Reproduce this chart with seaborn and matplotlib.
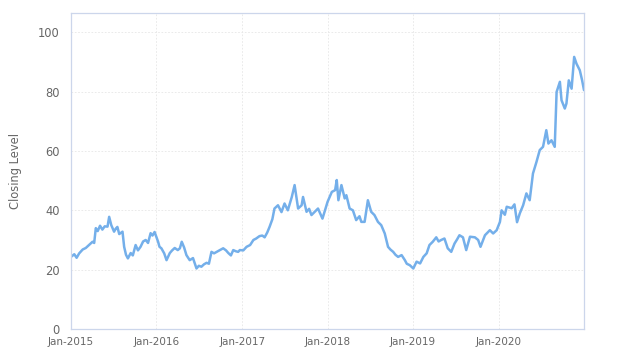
import pandas as pd
import matplotlib
matplotlib.use("Agg")
import matplotlib.pyplot as plt
import matplotlib.dates as mdates
import seaborn as sns

# Closing levels
dates = [
    "2015-01-01", "2015-01-15", "2015-01-25", "2015-02-05", "2015-02-20", "2015-03-05",
    "2015-03-20", "2015-04-03", "2015-04-10", "2015-04-17", "2015-04-25", "2015-05-05",
    "2015-05-15", "2015-05-25", "2015-06-06", "2015-06-13", "2015-06-22", "2015-07-04",
    "2015-07-11", "2015-07-18", "2015-07-26", "2015-08-09", "2015-08-16", "2015-08-24",
    "2015-09-01", "2015-09-13", "2015-09-22", "2015-10-04", "2015-10-14", "2015-10-25",
    "2015-11-05", "2015-11-16", "2015-11-26", "2015-12-07", "2015-12-15", "2015-12-24",
    "2016-01-08", "2016-01-14", "2016-01-22", "2016-02-03", "2016-02-13", "2016-02-27",
    "2016-03-08", "2016-03-19", "2016-04-01", "2016-04-10", "2016-04-18", "2016-04-28",
    "2016-05-08", "2016-05-22", "2016-06-05", "2016-06-20", "2016-06-30", "2016-07-11",
    "2016-07-22", "2016-08-02", "2016-08-12", "2016-08-23", "2016-09-03", "2016-09-14",
    "2016-09-28", "2016-10-12", "2016-10-24", "2016-11-03", "2016-11-14", "2016-11-24",
    "2016-12-05", "2016-12-15", "2016-12-22", "2017-01-06", "2017-01-20", "2017-02-04",
    "2017-02-18", "2017-03-02", "2017-03-16", "2017-03-28", "2017-04-07", "2017-04-18",
    "2017-04-28", "2017-05-10", "2017-05-19", "2017-06-03", "2017-06-18", "2017-07-01",
    "2017-07-15", "2017-08-01", "2017-08-13", "2017-08-28", "2017-09-12", "2017-09-18",
    "2017-10-03", "2017-10-14", "2017-10-24", "2017-11-07", "2017-11-21", "2017-12-10",
    "2018-01-01", "2018-01-19", "2018-02-02", "2018-02-09", "2018-02-16", "2018-03-01",
    "2018-03-15", "2018-03-22", "2018-04-05", "2018-04-19", "2018-05-03", "2018-05-17",
    "2018-05-25", "2018-06-08", "2018-06-22", "2018-07-06", "2018-07-20", "2018-08-04",
    "2018-08-18", "2018-09-02", "2018-09-16", "2018-09-26", "2018-10-08", "2018-10-18",
    "2018-10-29", "2018-11-13", "2018-11-27", "2018-12-05", "2018-12-18", "2019-01-02",
    "2019-01-16", "2019-01-31", "2019-02-14", "2019-02-28", "2019-03-12", "2019-03-26",
    "2019-04-10", "2019-04-20", "2019-05-01", "2019-05-15", "2019-05-29", "2019-06-13",
    "2019-06-27", "2019-07-08", "2019-07-18", "2019-08-02", "2019-08-16", "2019-09-01",
    "2019-09-22", "2019-10-06", "2019-10-16", "2019-11-04", "2019-11-25", "2019-12-09",
    "2019-12-24", "2020-01-07", "2020-01-14", "2020-01-28", "2020-02-05", "2020-02-26",
    "2020-03-09", "2020-03-20", "2020-04-01", "2020-04-15", "2020-04-29", "2020-05-13",
    "2020-05-27", "2020-06-11", "2020-06-25", "2020-07-09", "2020-07-23", "2020-08-01",
    "2020-08-14", "2020-08-28", "2020-09-05", "2020-09-19", "2020-09-26", "2020-10-10",
    "2020-10-17", "2020-10-27", "2020-11-08", "2020-11-19", "2020-11-29", "2020-12-13",
    "2020-12-23", "2020-12-31",
]
closing = [
    24.3, 25.2, 24.0, 25.5, 26.8, 27.3,
    28.4, 29.4, 29.0, 34.0, 33.0, 34.8,
    33.5, 34.6, 34.5, 37.8, 35.0, 32.8,
    33.8, 34.4, 32.0, 32.8, 27.7, 25.0,
    23.8, 25.6, 24.8, 28.3, 26.5, 27.7,
    29.5, 30.0, 29.0, 32.3, 31.5, 32.7,
    29.4, 27.7, 27.2, 25.5, 23.2, 25.6,
    26.5, 27.3, 26.6, 27.2, 29.4, 27.5,
    24.9, 23.2, 23.9, 20.4, 21.3, 21.0,
    21.8, 22.3, 22.0, 26.0, 25.5, 26.0,
    26.6, 27.2, 26.5, 25.6, 24.8, 26.6,
    26.2, 26.0, 26.6, 26.5, 27.7, 28.3,
    30.0, 30.5, 31.3, 31.5, 30.9, 32.5,
    34.4, 37.0, 40.6, 41.7, 39.4, 42.3,
    40.0, 44.5, 48.5, 40.6, 41.7, 44.5,
    39.5, 40.5, 38.4, 39.5, 40.6, 37.2,
    42.9, 46.2, 46.8, 50.2, 43.4, 48.5,
    44.0, 45.1, 40.6, 40.0, 36.7, 38.0,
    36.1, 36.1, 43.4, 39.5, 38.4, 36.1,
    35.0, 32.2, 27.7, 26.8, 26.0, 25.0,
    24.3, 24.9, 23.2, 22.0, 21.5, 20.4,
    22.7, 22.1, 24.3, 25.5, 28.3, 29.4,
    30.9, 29.5, 30.0, 30.5, 27.2, 26.0,
    28.8, 30.2, 31.6, 30.9, 26.6, 31.1,
    30.9, 30.0, 27.7, 31.6, 33.3, 32.2,
    33.3, 36.1, 40.0, 38.5, 41.2, 40.7,
    42.0, 36.0, 39.0, 41.7, 45.7, 43.4,
    52.4, 56.3, 60.3, 61.4, 67.0, 62.5,
    63.6, 61.4, 79.9, 83.3, 77.1, 74.3,
    76.0, 83.8, 81.0, 91.7, 89.4, 87.2,
    83.8, 80.5,
]
y_ticks = [0, 20, 40, 60, 80, 100]

df = pd.DataFrame({"Date": pd.to_datetime(dates), "Close": closing})

sns.set_theme(style="white")
plt.rcParams['font.family'] = ['DejaVu Sans']

fig = plt.figure(figsize=(6.24, 3.63), dpi=100, facecolor='white')
ax = fig.add_axes([71 / 624, 34 / 363, 513 / 624, 316 / 363])

sns.lineplot(data=df, x="Date", y="Close", ax=ax, color='#74afea', linewidth=1.8)

ax.set_xlim(df["Date"].min(), df["Date"].max())
ax.set_ylim(0, 106.5)
ax.set_yticks(y_ticks)
ax.xaxis.set_major_locator(mdates.YearLocator(month=1, day=1))
ax.xaxis.set_major_formatter(mdates.DateFormatter('%b-%Y'))

ax.grid(True, linestyle=(0, (2, 2)), color='#e6e6e6', linewidth=0.6)
for side in ['left', 'right', 'top', 'bottom']:
    ax.spines[side].set_color('#ccd6eb')
    ax.spines[side].set_linewidth(0.9)

ax.tick_params(axis='y', length=0, pad=8, labelsize=8.3, labelcolor='#666666')
ax.tick_params(axis='x', length=3, color='#ccd6eb', pad=3, labelsize=7.5, labelcolor='#666666')

ax.set_xlabel('')
ax.set_ylabel('Closing Level', fontsize=8.3, color='#666666')
ax.yaxis.set_label_coords(-0.095, 0.5)

plt.savefig("out.png", dpi=100, facecolor='white')
plt.close()
